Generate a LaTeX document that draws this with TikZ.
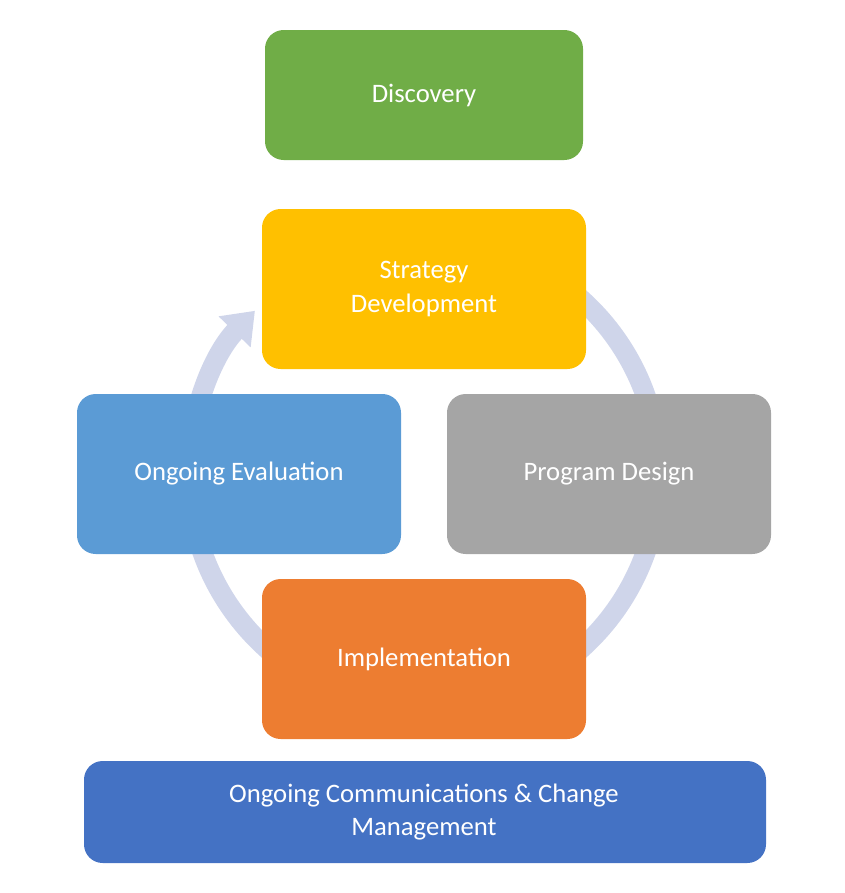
\documentclass[tikz,border=0pt]{standalone}
\usepackage{fontspec}
\setmainfont{Carlito}
\usetikzlibrary{arrows.meta}
\definecolor{cgreen}{HTML}{70AD47}
\definecolor{cyellow}{HTML}{FFC000}
\definecolor{cblue}{HTML}{5B9BD5}
\definecolor{cgray}{HTML}{A5A5A5}
\definecolor{corange}{HTML}{ED7D31}
\definecolor{cdblue}{HTML}{4472C4}
\definecolor{carc}{HTML}{CFD5EA}
\begin{document}
\begin{tikzpicture}[x=0.75pt,y=-0.75pt,
  box/.style={rounded corners=14pt,draw=none,text=white,font=\fontsize{20}{25}\selectfont,align=center}]
\useasboundingbox (0,0) rectangle (845,893);
\draw[carc,line width=15pt,-{Triangle[width=32pt,length=22pt]}] (424,474) ++(-90:235) arc[start angle=-90,end angle=224,radius=235];
\fill[box,fill=cgreen] (265,30) rectangle (583,160); \node[box] (disc) at (424,95) {Discovery};
\fill[box,fill=cyellow] (262,209) rectangle (586,369); \node[box] (strat) at (424,289) {Strategy\\Development};
\fill[box,fill=cblue] (77,394) rectangle (401,554); \node[box] (eval) at (239,474) {Ongoing Evaluation};
\fill[box,fill=cgray] (447,394) rectangle (771,554); \node[box] (prog) at (609,474) {Program Design};
\fill[box,fill=corange] (262,579) rectangle (586,739); \node[box] (impl) at (424,659) {Implementation};
\fill[box,fill=cdblue] (84,761) rectangle (766,863); \node[box] (comm) at (424,812) {Ongoing Communications \& Change\\Management};
\end{tikzpicture}
\end{document}
